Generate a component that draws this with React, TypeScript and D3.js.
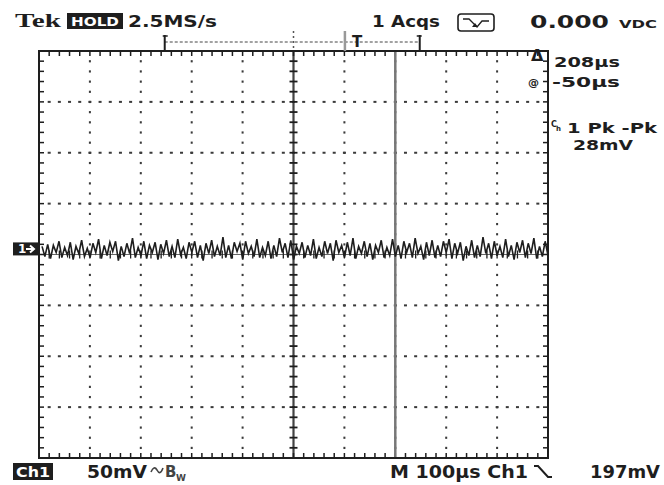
import React from "react";
import * as d3 from "d3";

// Channel 1 noise samples (mV relative to ground)
const noiseMv: number[] = [
  3, -7, 5, -9, 4, -3, 8, -8, 2, -6, 7, -10, 3, -4, 9, -7, 1, -8, 6, -3,
  10, -9, 4, -6, 7, -2, 8, -11, 3, -7, 6, -4, 11, -8, 2, -6, 8, -9, 4, -3,
  7, -10, 5, -4, 9, -7, 3, -8, 10, -5, 2, -9, 7, -3, 8, -8, 4, -11, 6, -4,
  9, -7, 3, -6, 12, -8, 4, -9, 7, -2, 6, -10, 8, -4, 3, -7, 10, -8, 2, -6,
  8, -9, 4, -7, 11, -3, 6, -8, 9, -10, 3, -4, 7, -8, 4, -6, 10, -9, 2, -7,
  8, -4, 6, -11, 9, -3, 4, -8, 7, -6, 11, -9, 3, -4, 8, -7, 6, -10, 4, -3,
  9, -8, 2, -6, 10, -7, 4, -9, 8, -3, 6, -8, 11, -4, 3, -10, 7, -6, 9, -8,
  4, -7, 8, -3, 10, -9, 6, -4, 7, -11, 3, -6, 9, -8, 4, -7, 12, -4, 6, -9,
  8, -6, 3, -8, 10, -7, 4, -10, 7, -3, 9, -8, 6, -4, 11, -9, 3, -7, 8, -6,
];

const groundOffsetMv = 5; // channel 1 ground marker slightly above centre
const voltsPerDivMv = 50;
const timePerDivUs = 100;
const hDivs = 10;
const vDivs = 8;
const cursorTimeUs = 700;
const windowStartUs = 247;
const windowEndUs = 748;
const triggerMarkUs = 625;
const grayMarkUs = 601;

const topTexts = { tek: "Tek", hold: "HOLD", rate: "2.5MS/s", acqs: "1 Acqs", vdc: "0.000", vdcUnit: "VDC" };
const sideTexts = { delta: "208µs", at: "-50µs", meas: "1 Pk -Pk", measVal: "28mV" };
const bottomTexts = { ch: "Ch1", volts: "50mV", time: "M 100µs Ch1", trig: "197mV" };

const L = 39, R = 548, T = 51, B = 458;
const INK = "#1e1e1e";
const FONT = "DejaVu Sans, Verdana, sans-serif";

export default function App() {
  const x = d3.scaleLinear().domain([0, hDivs * timePerDivUs]).range([L, R]);
  const y = d3.scaleLinear().domain([-(vDivs / 2) * voltsPerDivMv, (vDivs / 2) * voltsPerDivMv]).range([B, T]);
  const tIdx = d3.scaleLinear().domain([0, noiseMv.length - 1]).range([6, hDivs * timePerDivUs]);

  const line = d3
    .line<number>()
    .x((_, i) => x(tIdx(i)))
    .y((d) => y(d + groundOffsetMv));

  const minorT = timePerDivUs / 5;
  const minorV = voltsPerDivMv / 5;
  const tMinor = d3.range(0, hDivs * timePerDivUs + 0.1, minorT);
  const vMinor = d3.range(-(vDivs / 2) * voltsPerDivMv, (vDivs / 2) * voltsPerDivMv + 0.1, minorV);
  const tMajor = d3.range(timePerDivUs, hDivs * timePerDivUs, timePerDivUs).filter((t) => t !== 500);
  const vMajor = d3.range(-150, 151, voltsPerDivMv).filter((v) => v !== 0);

  const dots: React.ReactNode[] = [];
  tMajor.forEach((t) =>
    vMinor.forEach((v, j) => {
      if (j === 0 || j === vMinor.length - 1) return;
      dots.push(<rect key={`v${t}_${v}`} x={x(t) - 1} y={y(v) - 1} width={2} height={2.2} fill="#3a3a3a" />);
    })
  );
  vMajor.forEach((v) =>
    tMinor.forEach((t, j) => {
      if (j === 0 || j === tMinor.length - 1) return;
      dots.push(<rect key={`h${t}_${v}`} x={x(t) - 1.5} y={y(v) - 1} width={3} height={2} fill="#3a3a3a" />);
    })
  );

  const ticks: React.ReactNode[] = [];
  tMinor.forEach((t, j) => {
    if (j === 0 || j === tMinor.length - 1) return;
    ticks.push(<line key={`tt${t}`} x1={x(t)} x2={x(t)} y1={T} y2={T + 5} stroke={INK} strokeWidth={1.5} />);
    ticks.push(<line key={`tb${t}`} x1={x(t)} x2={x(t)} y1={B} y2={B - 5} stroke={INK} strokeWidth={1.5} />);
    ticks.push(<line key={`tc${t}`} x1={x(t)} x2={x(t)} y1={y(0) - 4} y2={y(0) + 4} stroke={INK} strokeWidth={1.3} />);
  });
  vMinor.forEach((v, j) => {
    if (j === 0 || j === vMinor.length - 1) return;
    ticks.push(<line key={`vl${v}`} x1={L} x2={L + 5} y1={y(v)} y2={y(v)} stroke={INK} strokeWidth={1.5} />);
    ticks.push(<line key={`vr${v}`} x1={R} x2={R - 5} y1={y(v)} y2={y(v)} stroke={INK} strokeWidth={1.5} />);
    ticks.push(<line key={`vc${v}`} x1={x(500) - 4} x2={x(500) + 4} y1={y(v)} y2={y(v)} stroke={INK} strokeWidth={1.8} />);
  });

  const gy = y(groundOffsetMv);

  return (
    <svg width={664} height={485} style={{ display: "block", position: "absolute", left: 0, top: 0, background: "#fff" }}>
      <rect width={664} height={485} fill="#fff" />
      {dots}
      {/* centre axes */}
      <line x1={x(500)} x2={x(500)} y1={T} y2={B} stroke="#444" strokeWidth={2.2} />
      <line x1={L} x2={R} y1={y(0)} y2={y(0)} stroke="#666" strokeWidth={1} />
      {ticks}
      {/* cursor */}
      <line x1={x(cursorTimeUs)} x2={x(cursorTimeUs)} y1={T - 1} y2={B} stroke="#777" strokeWidth={2.5} />
      {/* border */}
      <rect x={L} y={T} width={R - L} height={B - T} fill="none" stroke={INK} strokeWidth={2} />
      {/* trace */}
      <path d={line(noiseMv) || ""} fill="none" stroke={INK} strokeWidth={1.6} strokeLinejoin="miter" />

      {/* record window indicator */}
      <line x1={x(windowStartUs)} x2={x(windowEndUs)} y1={42} y2={42} stroke="#444" strokeWidth={1} strokeDasharray="3,2" />
      <line x1={x(windowStartUs)} x2={x(windowStartUs)} y1={35} y2={T} stroke={INK} strokeWidth={2} />
      <line x1={x(windowStartUs) - 2} x2={x(windowStartUs) + 3} y1={36} y2={36} stroke={INK} strokeWidth={1.5} />
      <line x1={x(windowEndUs)} x2={x(windowEndUs)} y1={35} y2={T} stroke={INK} strokeWidth={2} />
      <line x1={x(windowEndUs) - 3} x2={x(windowEndUs) + 2} y1={36} y2={36} stroke={INK} strokeWidth={1.5} />
      <line x1={x(grayMarkUs)} x2={x(grayMarkUs)} y1={31} y2={T} stroke="#999" strokeWidth={2.5} />
      <line x1={x(500)} x2={x(500)} y1={31} y2={T} stroke="#555" strokeWidth={1.5} strokeDasharray="2,3" />
      <text x={x(triggerMarkUs)} y={47} fontFamily={FONT} fontWeight="bold" fontSize={15} fill={INK} textAnchor="middle">T</text>

      {/* top status line */}
      <text x={15} y={27} fontFamily="Liberation Serif, serif" fontWeight="bold" fontSize={19} fill={INK} textLength={46} lengthAdjust="spacingAndGlyphs">{topTexts.tek}</text>
      <rect x={67} y={13} width={56} height={16} fill={INK} />
      <text x={95} y={26} fontFamily={FONT} fontWeight="bold" fontSize={12} fill="#fff" textAnchor="middle" textLength={48} lengthAdjust="spacingAndGlyphs">{topTexts.hold}</text>
      <text x={128} y={27} fontFamily={FONT} fontWeight="bold" fontSize={16} fill={INK} textLength={89} lengthAdjust="spacingAndGlyphs">{topTexts.rate}</text>
      <text x={372} y={27} fontFamily={FONT} fontWeight="bold" fontSize={15} fill={INK} textLength={68} lengthAdjust="spacingAndGlyphs">{topTexts.acqs}</text>
      <rect x={458} y={14} width={36} height={17} rx={3} fill="none" stroke={INK} strokeWidth={1.6} />
      <path d="M463,19 L469,19 L477,27 L482,21 L489,21" fill="none" stroke={INK} strokeWidth={1.3} />
      <path d="M472,27 L478,27 L475,23 Z" fill={INK} />
      <text x={530} y={28} fontFamily={FONT} fontWeight="bold" fontSize={18} fill={INK} textLength={79} lengthAdjust="spacingAndGlyphs">{topTexts.vdc}</text>
      <text x={619} y={28} fontFamily={FONT} fontWeight="bold" fontSize={11} fill={INK} textLength={38} lengthAdjust="spacingAndGlyphs">{topTexts.vdcUnit}</text>

      {/* right side readouts */}
      <text x={531} y={61} fontFamily={FONT} fontWeight="bold" fontSize={16} fill={INK}>Δ</text>
      <text x={554} y={67} fontFamily={FONT} fontWeight="bold" fontSize={14} fill={INK} textLength={66} lengthAdjust="spacingAndGlyphs">{sideTexts.delta}</text>
      <text x={528} y={86} fontFamily={FONT} fontWeight="bold" fontSize={11} fill={INK}>@</text>
      <text x={552} y={87} fontFamily={FONT} fontWeight="bold" fontSize={14} fill={INK} textLength={68} lengthAdjust="spacingAndGlyphs">{sideTexts.at}</text>
      <text x={551} y={127} fontFamily={FONT} fontWeight="bold" fontSize={8} fill={INK}>C</text>
      <text x={556} y={131} fontFamily={FONT} fontWeight="bold" fontSize={7} fill={INK}>h</text>
      <text x={567} y={133} fontFamily={FONT} fontWeight="bold" fontSize={14} fill={INK} textLength={90} lengthAdjust="spacingAndGlyphs">{sideTexts.meas}</text>
      <text x={573} y={150} fontFamily={FONT} fontWeight="bold" fontSize={14} fill={INK} textLength={60} lengthAdjust="spacingAndGlyphs">{sideTexts.measVal}</text>

      {/* ground marker */}
      <rect x={13} y={gy - 7} width={25} height={13} fill={INK} />
      <text x={18} y={gy + 4} fontFamily={FONT} fontWeight="bold" fontSize={12} fill="#fff">1</text>
      <path d={`M26,${gy - 0.5} L33,${gy - 0.5} M30,${gy - 4} L34,${gy - 0.5} L30,${gy + 3}`} fill="none" stroke="#fff" strokeWidth={2} />

      {/* bottom status line */}
      <rect x={13} y={463} width={40} height={17} fill={INK} />
      <text x={33} y={477} fontFamily={FONT} fontWeight="bold" fontSize={14} fill="#fff" textAnchor="middle" textLength={34} lengthAdjust="spacingAndGlyphs">{bottomTexts.ch}</text>
      <text x={87} y={478} fontFamily={FONT} fontWeight="bold" fontSize={18} fill={INK} textLength={60} lengthAdjust="spacingAndGlyphs">{bottomTexts.volts}</text>
      <path d="M151,472 Q154,465 157,470 Q160,476 163,468" fill="none" stroke="#444" strokeWidth={1.6} />
      <text x={165} y={477} fontFamily={FONT} fontWeight="bold" fontSize={15} fill="#444">B</text>
      <text x={176} y={481} fontFamily={FONT} fontWeight="bold" fontSize={9} fill="#444">W</text>
      <text x={390} y={478} fontFamily={FONT} fontWeight="bold" fontSize={17} fill={INK} textLength={138} lengthAdjust="spacingAndGlyphs">{bottomTexts.time}</text>
      <path d="M534,466 L538,466 L548,477 L552,477" fill="none" stroke={INK} strokeWidth={2} />
      <text x={590} y={478} fontFamily={FONT} fontWeight="bold" fontSize={17} fill={INK} textLength={70} lengthAdjust="spacingAndGlyphs">{bottomTexts.trig}</text>
    </svg>
  );
}
